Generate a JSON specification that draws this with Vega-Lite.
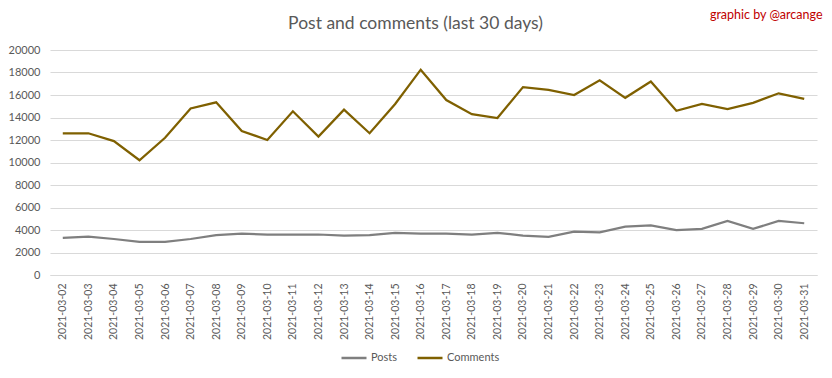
{
  "$schema": "https://vega.github.io/schema/vega-lite/v6.json",
  "width": 767,
  "height": 225,
  "autosize": {"type": "none"},
  "padding": {"left": 50, "top": 50, "right": 15, "bottom": 103},
  "background": "white",
  "title": {"text": "Post and comments (last 30 days)", "font": "Lato", "fontSize": 17.5, "fontWeight": "normal", "color": "#595959", "anchor": "middle", "frame": "group", "dx": -18, "offset": -24},
  "config": {"view": {"stroke": null}, "font": "Lato"},
  "data": {"values": [
    {"date":"2021-03-02","series":"Posts","value":3300},
    {"date":"2021-03-03","series":"Posts","value":3400},
    {"date":"2021-03-04","series":"Posts","value":3200},
    {"date":"2021-03-05","series":"Posts","value":2950},
    {"date":"2021-03-06","series":"Posts","value":2950},
    {"date":"2021-03-07","series":"Posts","value":3200},
    {"date":"2021-03-08","series":"Posts","value":3550},
    {"date":"2021-03-09","series":"Posts","value":3670},
    {"date":"2021-03-10","series":"Posts","value":3600},
    {"date":"2021-03-11","series":"Posts","value":3600},
    {"date":"2021-03-12","series":"Posts","value":3600},
    {"date":"2021-03-13","series":"Posts","value":3500},
    {"date":"2021-03-14","series":"Posts","value":3550},
    {"date":"2021-03-15","series":"Posts","value":3750},
    {"date":"2021-03-16","series":"Posts","value":3670},
    {"date":"2021-03-17","series":"Posts","value":3670},
    {"date":"2021-03-18","series":"Posts","value":3600},
    {"date":"2021-03-19","series":"Posts","value":3750},
    {"date":"2021-03-20","series":"Posts","value":3500},
    {"date":"2021-03-21","series":"Posts","value":3400},
    {"date":"2021-03-22","series":"Posts","value":3850},
    {"date":"2021-03-23","series":"Posts","value":3800},
    {"date":"2021-03-24","series":"Posts","value":4300},
    {"date":"2021-03-25","series":"Posts","value":4400},
    {"date":"2021-03-26","series":"Posts","value":4000},
    {"date":"2021-03-27","series":"Posts","value":4100},
    {"date":"2021-03-28","series":"Posts","value":4800},
    {"date":"2021-03-29","series":"Posts","value":4100},
    {"date":"2021-03-30","series":"Posts","value":4800},
    {"date":"2021-03-31","series":"Posts","value":4600},
    {"date":"2021-03-02","series":"Comments","value":12600},
    {"date":"2021-03-03","series":"Comments","value":12600},
    {"date":"2021-03-04","series":"Comments","value":11900},
    {"date":"2021-03-05","series":"Comments","value":10200},
    {"date":"2021-03-06","series":"Comments","value":12200},
    {"date":"2021-03-07","series":"Comments","value":14800},
    {"date":"2021-03-08","series":"Comments","value":15350},
    {"date":"2021-03-09","series":"Comments","value":12800},
    {"date":"2021-03-10","series":"Comments","value":12000},
    {"date":"2021-03-11","series":"Comments","value":14550},
    {"date":"2021-03-12","series":"Comments","value":12300},
    {"date":"2021-03-13","series":"Comments","value":14700},
    {"date":"2021-03-14","series":"Comments","value":12600},
    {"date":"2021-03-15","series":"Comments","value":15200},
    {"date":"2021-03-16","series":"Comments","value":18250},
    {"date":"2021-03-17","series":"Comments","value":15550},
    {"date":"2021-03-18","series":"Comments","value":14300},
    {"date":"2021-03-19","series":"Comments","value":13950},
    {"date":"2021-03-20","series":"Comments","value":16700},
    {"date":"2021-03-21","series":"Comments","value":16450},
    {"date":"2021-03-22","series":"Comments","value":16000},
    {"date":"2021-03-23","series":"Comments","value":17300},
    {"date":"2021-03-24","series":"Comments","value":15750},
    {"date":"2021-03-25","series":"Comments","value":17200},
    {"date":"2021-03-26","series":"Comments","value":14600},
    {"date":"2021-03-27","series":"Comments","value":15200},
    {"date":"2021-03-28","series":"Comments","value":14750},
    {"date":"2021-03-29","series":"Comments","value":15300},
    {"date":"2021-03-30","series":"Comments","value":16150},
    {"date":"2021-03-31","series":"Comments","value":15650}
  ]},
  "layer": [
    {
      "mark": {"type": "line", "strokeWidth": 2.25},
      "encoding": {
        "x": {"field": "date", "type": "ordinal", "scale": {"type": "point", "padding": 0.5},
              "axis": {"title": null, "labelAngle": -90, "labelPadding": 8, "labelFontSize": 10.5, "labelColor": "#595959", "labelFont": "Lato", "ticks": false, "grid": false, "domain": true, "domainColor": "#D9D9D9", "domainWidth": 1}},
        "y": {"field": "value", "type": "quantitative", "scale": {"domain": [0, 20000], "nice": false},
              "axis": {"title": null, "values": [0,2000,4000,6000,8000,10000,12000,14000,16000,18000,20000], "format": "d", "ticks": false, "domain": false, "grid": true, "gridColor": "#D9D9D9", "gridWidth": 1, "labelPadding": 10, "labelFontSize": 11, "labelColor": "#595959", "labelFont": "Lato"}},
        "color": {"field": "series", "type": "nominal",
                  "scale": {"domain": ["Posts", "Comments"], "range": ["#7F7F7F", "#7F6000"]},
                  "legend": {"title": null, "orient": "none", "direction": "horizontal", "legendX": 290, "legendY": 294, "symbolType": "stroke", "symbolSize": 625, "symbolStrokeWidth": 2.5, "labelFontSize": 11, "labelColor": "#595959", "labelFont": "Lato", "columnPadding": 14, "labelOffset": 3}}
      }
    },
    {
      "mark": {"type": "point", "opacity": 0},
      "encoding": {
        "x": {"field": "date", "type": "ordinal",
              "axis": {"orient": "top", "labels": false, "ticks": false, "domain": false, "grid": false, "title": "graphic by @arcange", "titleFont": "Lato", "titleFontSize": 12.5, "titleFontWeight": "normal", "titleColor": "#C00000", "titleAnchor": "end", "titleAlign": "right", "titleX": 772, "titleY": -36, "titleBaseline": "middle"}}
      }
    }
  ],
  "resolve": {"axis": {"x": "independent"}}
}
